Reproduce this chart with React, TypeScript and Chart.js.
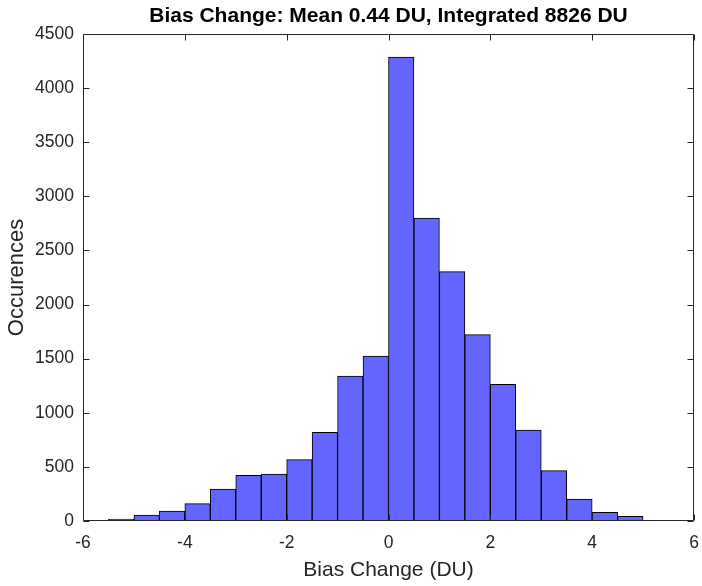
import React, { useEffect, useRef } from "react";
import { Chart, registerables } from "chart.js";

Chart.register(...registerables);

// Histogram bins (centres, DU) and counts
const binCenters = [
  -5.25, -4.75, -4.25, -3.75, -3.25, -2.75, -2.25, -1.75, -1.25, -0.75, -0.25,
  0.25, 0.75, 1.25, 1.75, 2.25, 2.75, 3.25, 3.75, 4.25, 4.75,
];
const counts = [
  18, 55, 92, 160, 296, 422, 434, 567, 820, 1340, 1525,
  4286, 2798, 2304, 1722, 1263, 841, 465, 203, 80, 43,
];
const xMin = -6;
const xMax = 6;
const xStep = 2;
const yMin = 0;
const yMax = 4500;
const yStep = 500;

const titleText = "Bias Change: Mean 0.44 DU, Integrated 8826 DU";
const xLabel = "Bias Change (DU)";
const yLabel = "Occurences";

const FONT = "'Liberation Sans', Arial, Helvetica, sans-serif";
const AXIS_COLOR = "#262626";

const frameTicks = {
  id: "frameTicks",
  afterDatasetsDraw(chart: any) {
    const { ctx, chartArea, scales } = chart;
    const { left, right, top, bottom } = chartArea;
    const L = Math.round(left) + 0.5;
    const R = Math.round(right) - 0.5;
    const T = Math.round(top) + 0.5;
    const B = Math.round(bottom) - 0.5;
    const len = 6;
    ctx.save();
    ctx.strokeStyle = AXIS_COLOR;
    ctx.lineWidth = 1;
    ctx.beginPath();
    ctx.rect(L, T, R - L, B - T);
    const xs = scales.x;
    const ys = scales.y;
    xs.ticks.forEach((t: any) => {
      const px = Math.round(xs.getPixelForValue(t.value)) + 0.5;
      ctx.moveTo(px, B);
      ctx.lineTo(px, B - len);
      ctx.moveTo(px, T);
      ctx.lineTo(px, T + len);
    });
    ys.ticks.forEach((t: any) => {
      const py = Math.round(ys.getPixelForValue(t.value)) + 0.5;
      ctx.moveTo(L, py);
      ctx.lineTo(L + len, py);
      ctx.moveTo(R, py);
      ctx.lineTo(R - len, py);
    });
    ctx.stroke();
    // title centred over the axes, as MATLAB does
    ctx.fillStyle = "#000000";
    ctx.font = `bold 21px ${FONT}`;
    ctx.textAlign = "center";
    ctx.textBaseline = "middle";
    ctx.fillText(titleText, (left + right) / 2, 16.5);
    ctx.restore();
  },
};

export default function App() {
  const canvasRef = useRef<HTMLCanvasElement | null>(null);

  useEffect(() => {
    const canvas = canvasRef.current;
    if (!canvas) return;
    const chart = new Chart(canvas, {
      type: "bar",
      data: {
        datasets: [
          {
            data: binCenters.map((c, i) => ({ x: c, y: counts[i] })),
            backgroundColor: "#6464ff",
            borderColor: "#000000",
            borderWidth: 1,
            borderSkipped: false,
            barPercentage: 1,
            categoryPercentage: 1,
            grouped: false,
          } as any,
        ],
      },
      options: {
        responsive: false,
        animation: false,
        events: [],
        layout: { padding: { left: 0, right: 8, top: 34, bottom: 0 } },
        plugins: {
          legend: { display: false },
          tooltip: { enabled: false },
          title: { display: false },
        },
        scales: {
          x: {
            type: "linear",
            min: xMin,
            max: xMax,
            offset: false,
            grid: { display: false, drawTicks: false },
            border: { display: false },
            ticks: {
              stepSize: xStep,
              color: AXIS_COLOR,
              font: { family: FONT, size: 17.5 },
              padding: 12,
              maxRotation: 0,
              callback: (v: any) => String(v),
            },
            title: {
              display: true,
              text: xLabel,
              color: AXIS_COLOR,
              font: { family: FONT, size: 21 },
              padding: { top: 4, bottom: 3 },
            },
            afterFit: (s: any) => {
              s.height = 65;
              s.paddingLeft = 0;
              s.paddingRight = 0;
            },
          },
          y: {
            type: "linear",
            min: yMin,
            max: yMax,
            grid: { display: false, drawTicks: false },
            border: { display: false },
            ticks: {
              stepSize: yStep,
              color: AXIS_COLOR,
              font: { family: FONT, size: 17.5 },
              padding: 9,
              callback: (v: any) => String(v),
            },
            title: {
              display: true,
              text: yLabel,
              color: AXIS_COLOR,
              font: { family: FONT, size: 22 },
              padding: { top: 4, bottom: 4 },
            },
            afterFit: (s: any) => {
              s.width = 83;
              s.paddingTop = 0;
              s.paddingBottom = 0;
            },
          },
        },
      } as any,
      plugins: [frameTicks],
    });
    return () => chart.destroy();
  }, []);

  return (
    <div style={{ position: "absolute", left: 0, top: 0, width: 702, height: 586, background: "#fff" }}>
      <canvas ref={canvasRef} width={702} height={586} style={{ display: "block" }} />
    </div>
  );
}
